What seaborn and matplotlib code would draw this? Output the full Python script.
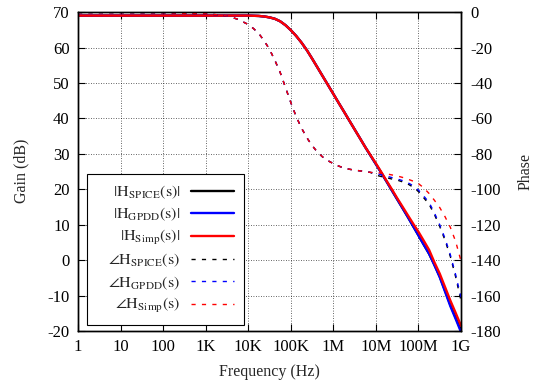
import matplotlib
matplotlib.use('Agg')
import matplotlib.pyplot as plt
import seaborn as sns
from matplotlib.ticker import FixedLocator, NullLocator

# frequency points (Hz), 1/8 decade above 10K
freq = [1, 10, 100, 1e3, 1.78e3, 3.16e3, 5.62e3,
        1e4, 1.33e4, 1.78e4, 2.37e4, 3.16e4, 4.22e4, 5.62e4, 7.5e4,
        1e5, 1.33e5, 1.78e5, 2.37e5, 3.16e5, 4.22e5, 5.62e5, 7.5e5,
        1e6, 1.33e6, 1.78e6, 2.37e6, 3.16e6, 4.22e6, 5.62e6, 7.5e6,
        1e7, 1.33e7, 1.78e7, 2.37e7, 3.16e7, 4.22e7, 5.62e7, 7.5e7,
        1e8, 1.33e8, 1.78e8, 2.37e8, 3.16e8, 4.22e8, 5.62e8, 7.5e8,
        1e9]

# gain (dB)
gain_spice = [69, 69, 69, 69, 69, 69, 69,
              69.0, 68.95, 68.9, 68.75, 68.5, 68.1, 67.4, 66.3,
              64.9, 63.3, 61.4, 59.3, 56.9, 54.4, 51.9, 49.4,
              46.9, 44.4, 41.9, 39.4, 36.9, 34.4, 31.9, 29.5,
              27.1, 24.7, 22.2, 19.7, 17.2, 14.7, 12.2, 9.6,
              7.0, 4.4, 1.8, -1.3, -4.6, -8.6, -12.6, -16.2,
              -19.8]
gain_gpdd = [69, 69, 69, 69, 69, 69, 69,
             69.0, 68.95, 68.9, 68.75, 68.5, 68.1, 67.4, 66.3,
             64.9, 63.3, 61.4, 59.3, 56.9, 54.4, 51.9, 49.4,
             46.9, 44.4, 41.9, 39.4, 36.9, 34.4, 31.9, 29.5,
             27.1, 24.7, 22.2, 19.7, 17.2, 14.7, 12.2, 9.6,
             7.0, 4.4, 1.8, -1.4, -4.8, -8.9, -13.0, -16.6,
             -20.3]
gain_simp = [69, 69, 69, 69, 69, 69, 69,
             69.0, 68.95, 68.9, 68.75, 68.5, 68.1, 67.4, 66.3,
             64.9, 63.3, 61.4, 59.3, 56.9, 54.4, 51.9, 49.4,
             46.9, 44.4, 41.9, 39.4, 36.9, 34.4, 31.9, 29.6,
             27.3, 24.9, 22.4, 20.0, 17.5, 15.1, 12.7, 10.3,
             8.0, 5.5, 2.9, -0.6, -3.8, -7.6, -11.4, -14.9,
             -18.5]

# phase (degrees)
phase_spice = [-0.3, -0.3, -0.4, -1.0, -1.5, -2.2, -4.0,
               -7.0, -9.3, -12.2, -16.2, -21, -27.2, -34, -42.5,
               -51, -58.8, -65.4, -70.8, -75.3, -79, -81.8, -83.9,
               -85.5, -86.9, -88, -88.7, -89.2, -89.6, -90, -90.5,
               -92, -92.8, -93.5, -94.2, -94.8, -95.8, -97, -98.8,
               -101.3, -104.8, -108.5, -114.2, -121, -128.8, -138, -149.5,
               -163]
phase_gpdd = [-0.3, -0.3, -0.4, -1.0, -1.5, -2.2, -4.0,
              -7.0, -9.3, -12.2, -16.2, -21, -27.2, -34, -42.5,
              -51, -58.8, -65.4, -70.8, -75.3, -79, -81.8, -83.9,
              -85.5, -86.9, -88, -88.7, -89.2, -89.6, -90, -90.5,
              -91, -91.8, -92.6, -93.4, -94.2, -95.1, -96.3, -98,
              -100.5, -103.8, -107.5, -113.3, -120, -127.8, -137, -148.3,
              -161]
phase_simp = [-0.3, -0.3, -0.4, -1.0, -1.5, -2.2, -4.0,
              -7.0, -9.3, -12.2, -16.2, -21, -27.2, -34, -42.5,
              -51, -58.8, -65.4, -70.8, -75.3, -79, -81.8, -83.9,
              -85.5, -86.9, -88, -88.7, -89.2, -89.6, -90, -90.5,
              -90.5, -90.9, -91.3, -91.9, -92.5, -93.3, -94.3, -95.4,
              -96.8, -99.2, -102.4, -106.2, -110.3, -115.5, -121.5, -129.5,
              -140.5]

xticks = [1, 10, 100, 1e3, 1e4, 1e5, 1e6, 1e7, 1e8, 1e9]
xtick_labels = ['1', '10', '100', '1K', '10K', '100K', '1M', '10M', '100M', '1G']
gain_ticks = [-20, -10, 0, 10, 20, 30, 40, 50, 60, 70]
phase_ticks = [0, -20, -40, -60, -80, -100, -120, -140, -160, -180]

labels = [r'$\quad\;\,|\mathrm{H}_{\mathrm{SPICE}}(\mathrm{s})|$',
          r'$|\mathrm{H}_{\mathrm{GPDD}}(\mathrm{s})|$',
          r'$|\mathrm{H}_{\mathrm{Simp}}(\mathrm{s})|$',
          r'$\angle\mathrm{H}_{\mathrm{SPICE}}(\mathrm{s})$',
          r'$\angle\mathrm{H}_{\mathrm{GPDD}}(\mathrm{s})$',
          r'$\angle\mathrm{H}_{\mathrm{Simp}}(\mathrm{s})$']

sns.set_theme(style='white')
plt.rcParams['font.family'] = ['Liberation Serif', 'DejaVu Serif']
plt.rcParams['mathtext.fontset'] = 'stix'
plt.rcParams['font.size'] = 12
plt.rcParams['axes.unicode_minus'] = False
plt.rcParams['axes.edgecolor'] = 'black'
plt.rcParams['axes.linewidth'] = 1.0

fig, ax = plt.subplots(figsize=(5.39, 3.89), dpi=100)
fig.subplots_adjust(left=0.1447, right=0.8553, bottom=0.149, top=0.969)
ax2 = ax.twinx()

sns.lineplot(x=freq, y=gain_spice, ax=ax, color='black', lw=1.7)
sns.lineplot(x=freq, y=gain_gpdd, ax=ax, color='#0000ff', lw=1.7)
sns.lineplot(x=freq, y=gain_simp, ax=ax, color='#ff0000', lw=1.7)

dash = (0, (3, 4.5))
sns.lineplot(x=freq, y=phase_spice, ax=ax2, color='black', lw=1.0, linestyle=dash)
sns.lineplot(x=freq, y=phase_gpdd, ax=ax2, color='#0000ff', lw=1.0, linestyle=dash)
sns.lineplot(x=freq, y=phase_simp, ax=ax2, color='#ff0000', lw=1.0, linestyle=dash)

ax.set_xscale('log')
ax.set_xlim(1, 1e9)
ax.set_ylim(-20, 70)
ax2.set_ylim(-180, 0)

ax.xaxis.set_major_locator(FixedLocator(xticks))
ax.xaxis.set_minor_locator(NullLocator())
ax.set_xticklabels(xtick_labels)
ax.set_yticks(gain_ticks)
ax2.set_yticks(phase_ticks)
ax2.xaxis.set_minor_locator(NullLocator())

ax.tick_params(axis='both', which='major', direction='in', length=5, width=0.8,
               colors='black', labelsize=12, pad=6, bottom=True, top=True, left=True, right=False)
ax2.tick_params(axis='y', which='major', direction='in', length=5, width=0.8,
                colors='black', labelsize=12, pad=6.5, right=True, left=False)

ax.grid(True, which='major', color='black', linestyle=(0, (1, 2)), lw=0.6, alpha=0.8)

ax.set_xlabel('')
ax.set_ylabel('')
ax2.set_ylabel('')
fig.text(0.5, 1 - 372 / 389, 'Frequency (Hz)', ha='center', va='center', fontsize=11.5)
fig.text(21 / 539, 1 - 171 / 389, 'Gain (dB)', ha='center', va='center', rotation=90, fontsize=11.5)
fig.text(526 / 539, 1 - 171 / 389, 'Phase', ha='center', va='center', rotation=90, fontsize=11.5)

handles = ax.get_lines()[:3] + ax2.get_lines()[:3]
leg = ax2.legend(handles, labels, loc='lower left', bbox_to_anchor=(0.0235, 0.019),
                 borderaxespad=0, markerfirst=False, frameon=True, fancybox=False,
                 edgecolor='black', framealpha=1, handlelength=2.7, handletextpad=0.65,
                 labelspacing=0.3, borderpad=0.6, fontsize=11.5)
leg.get_frame().set_linewidth(0.8)

fig.savefig('out.png', dpi=100)
